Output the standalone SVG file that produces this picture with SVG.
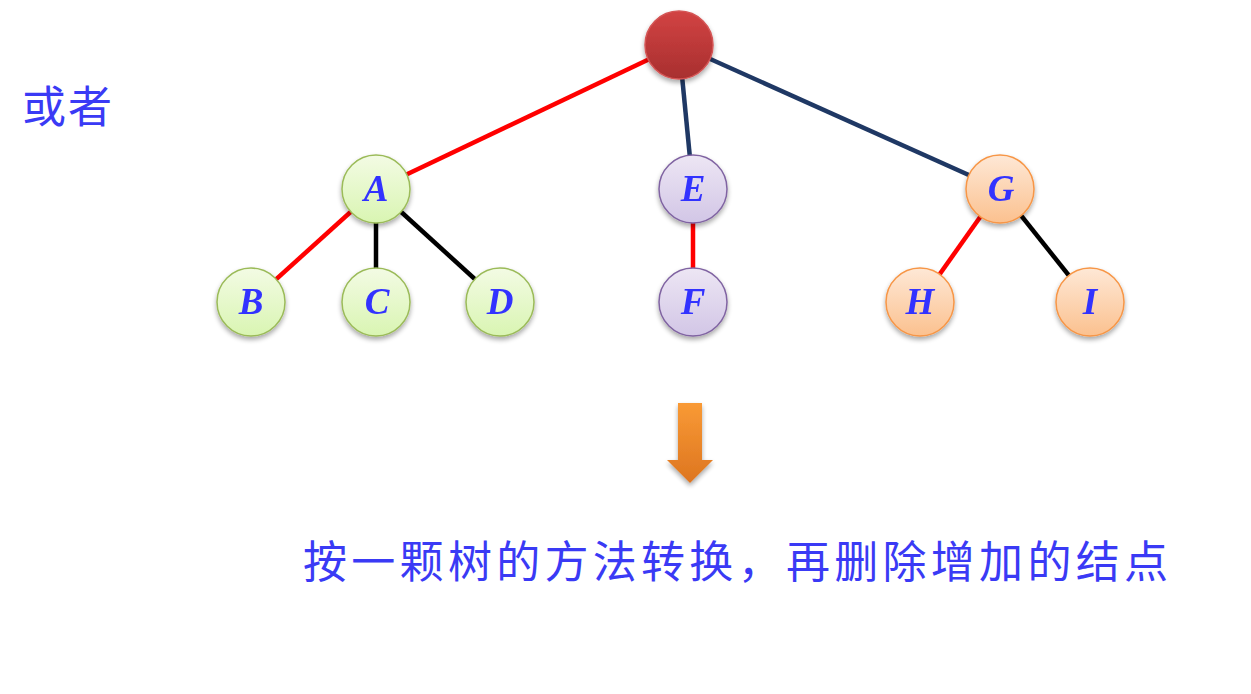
<svg xmlns="http://www.w3.org/2000/svg" width="1251" height="694" viewBox="0 0 1251 694">
  <style>
    .lbl { font-family: "Liberation Serif", "Times New Roman", serif; font-style: italic; font-weight: bold; font-size: 37px; fill: #3333ff; text-anchor: middle; }
    .cn { font-family: "Noto Sans CJK SC", sans-serif; fill: #3a3af5; }
    .edge { stroke-width: 4.5; fill: none; stroke-linecap: butt; }
    .red { stroke: #ff0000; }
    .navy { stroke: #1f3864; }
    .blk { stroke: #000000; }
    .g { stroke: #9bbb59; stroke-width: 1.5; fill: url(#gGreen); }
    .p { stroke: #8064a2; stroke-width: 1.5; fill: url(#gPurple); }
    .o { stroke: #f79646; stroke-width: 1.5; fill: url(#gOrange); }
  </style>
  <defs>
    <linearGradient id="gRoot" x1="0" y1="0" x2="0" y2="1">
      <stop offset="0" stop-color="#d24343"/>
      <stop offset="1" stop-color="#a82f2f"/>
    </linearGradient>
    <linearGradient id="gGreen" x1="0" y1="0" x2="0" y2="1">
      <stop offset="0" stop-color="#f3fbe4"/>
      <stop offset="1" stop-color="#d9f5b2"/>
    </linearGradient>
    <linearGradient id="gPurple" x1="0" y1="0" x2="0" y2="1">
      <stop offset="0" stop-color="#ede6f4"/>
      <stop offset="1" stop-color="#d2c6e6"/>
    </linearGradient>
    <linearGradient id="gOrange" x1="0" y1="0" x2="0" y2="1">
      <stop offset="0" stop-color="#fee8d6"/>
      <stop offset="1" stop-color="#fbc18f"/>
    </linearGradient>
    <linearGradient id="gArrow" x1="0" y1="0" x2="0" y2="1">
      <stop offset="0" stop-color="#f99a35"/>
      <stop offset="1" stop-color="#dd7520"/>
    </linearGradient>
    <filter id="shadow" x="-30%" y="-30%" width="160%" height="170%">
      <feGaussianBlur in="SourceAlpha" stdDeviation="2.5"/>
      <feOffset dx="0" dy="3" result="b"/>
      <feComponentTransfer><feFuncA type="linear" slope="0.35"/></feComponentTransfer>
      <feMerge><feMergeNode/><feMergeNode in="SourceGraphic"/></feMerge>
    </filter>
  </defs>

  <rect width="1251" height="694" fill="#ffffff"/>

  <g id="connectors">
    <line class="edge red" x1="679" y1="45" x2="376" y2="189"/>
    <line class="edge navy" x1="679" y1="45" x2="693" y2="189"/>
    <line class="edge navy" x1="679" y1="45" x2="1000" y2="189"/>
    <line class="edge red" x1="376" y1="189" x2="251" y2="302"/>
    <line class="edge blk" x1="376" y1="189" x2="376" y2="302"/>
    <line class="edge blk" x1="376" y1="189" x2="500" y2="302"/>
    <line class="edge red" x1="693" y1="189" x2="693" y2="302"/>
    <line class="edge red" x1="1000" y1="189" x2="920" y2="302"/>
    <line class="edge blk" x1="1000" y1="189" x2="1090" y2="302"/>
  </g>

  <g id="root" filter="url(#shadow)">
    <circle cx="679" cy="45" r="34" fill="url(#gRoot)" stroke="#d45555" stroke-width="1.5"/>
  </g>
  <g id="nodeA" filter="url(#shadow)">
    <circle class="g" cx="376" cy="189" r="34"/>
    <text class="lbl" x="376" y="201">A</text>
  </g>
  <g id="nodeE" filter="url(#shadow)">
    <circle class="p" cx="693" cy="189" r="34"/>
    <text class="lbl" x="693" y="201">E</text>
  </g>
  <g id="nodeG" filter="url(#shadow)">
    <circle class="o" cx="1000" cy="189" r="34"/>
    <text class="lbl" x="1001" y="201">G</text>
  </g>
  <g id="nodeB" filter="url(#shadow)">
    <circle class="g" cx="251" cy="302" r="34"/>
    <text class="lbl" x="251" y="314">B</text>
  </g>
  <g id="nodeC" filter="url(#shadow)">
    <circle class="g" cx="376" cy="302" r="34"/>
    <text class="lbl" x="377" y="314">C</text>
  </g>
  <g id="nodeD" filter="url(#shadow)">
    <circle class="g" cx="500" cy="302" r="34"/>
    <text class="lbl" x="500" y="314">D</text>
  </g>
  <g id="nodeF" filter="url(#shadow)">
    <circle class="p" cx="693" cy="302" r="34"/>
    <text class="lbl" x="693" y="314">F</text>
  </g>
  <g id="nodeH" filter="url(#shadow)">
    <circle class="o" cx="920" cy="302" r="34"/>
    <text class="lbl" x="920" y="314">H</text>
  </g>
  <g id="nodeI" filter="url(#shadow)">
    <circle class="o" cx="1090" cy="302" r="34"/>
    <text class="lbl" x="1090" y="314">I</text>
  </g>

  <g id="arrow" filter="url(#shadow)">
    <path d="M678,403 H702 V460 H713 L690,483 L667,460 H678 Z" fill="url(#gArrow)"/>
  </g>

  <text class="cn" x="22" y="123" font-size="44" textLength="90" lengthAdjust="spacing">或者</text>
  <text class="cn" x="303" y="578" font-size="44" textLength="865" lengthAdjust="spacing">按一颗树的方法转换，再删除增加的结点</text>
</svg>
